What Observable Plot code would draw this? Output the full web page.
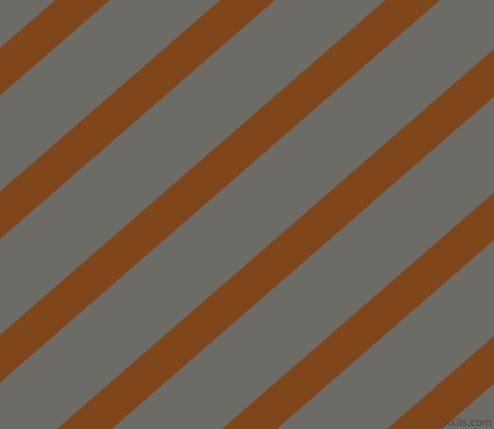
<!DOCTYPE html>
<html>
<head>
<meta charset="utf-8">
<script src="https://cdn.jsdelivr.net/npm/d3@7"></script>
<script src="https://cdn.jsdelivr.net/npm/@observablehq/plot@0.6"></script>
<style>
html, body { margin: 0; padding: 0; background: #6c6b65; overflow: hidden; }
#chart svg { display: block; }
</style>
</head>
<body>
<div id="chart"></div>
<script>
// Stripe pattern values (in image units, y measured downward)
const stripeStarts = [48, 191.5, 335, 478.5, 622, 765.5]; // left-edge y of each stripe's upper border
const stripeThickness = 47.5;   // vertical thickness of each stripe
const stripeAngleDeg = 41;      // rise angle of the stripes
const xExtent = [0, 494];
const yExtent = [0, 429];
const watermark = ["pixlis.com"];

const slope = Math.tan(stripeAngleDeg * Math.PI / 180);
const rows = [];
stripeStarts.forEach((s, i) => {
  for (const x of xExtent) {
    rows.push({stripe: i, x, y1: s - slope * x, y2: s + stripeThickness - slope * x});
  }
});

const chart = Plot.plot({
  width: 494,
  height: 429,
  margin: 0,
  x: {domain: xExtent, axis: null},
  y: {domain: yExtent, reverse: true, axis: null},
  style: {background: "#6c6b65"},
  marks: [
    Plot.areaY(rows, {x: "x", y1: "y1", y2: "y2", z: "stripe", fill: "#7f461b", clip: true}),
    Plot.text(watermark, {text: d => d, frameAnchor: "bottom-right", dx: -3, dy: -4,
      fill: "#4e4a44", fontSize: 10, fontFamily: "DejaVu Sans"})
  ]
});
document.getElementById("chart").append(chart);
</script>
</body>
</html>
